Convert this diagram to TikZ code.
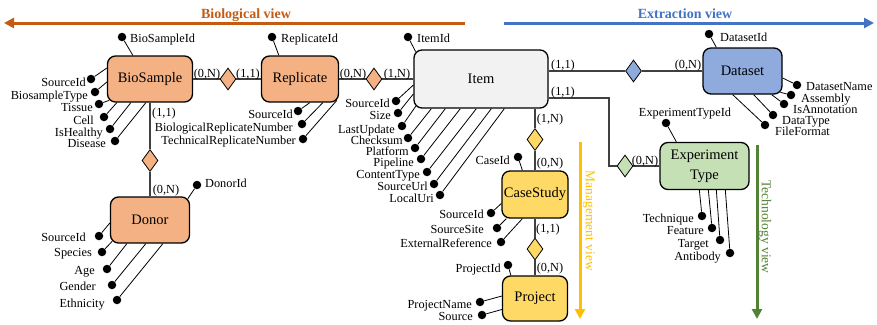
\documentclass[tikz,border=0pt]{standalone}
\usepackage{fontspec}
\setmainfont{Liberation Serif}
\usetikzlibrary{shapes.geometric,arrows.meta}
\definecolor{bioC}{HTML}{F4B183}
\definecolor{itemC}{HTML}{F2F2F2}
\definecolor{dataC}{HTML}{8FAADC}
\definecolor{expC}{HTML}{C5E0B4}
\definecolor{caseC}{HTML}{FFD966}
\definecolor{bioV}{HTML}{C55A11}
\definecolor{extV}{HTML}{4472C4}
\definecolor{manV}{HTML}{FFC000}
\definecolor{tecV}{HTML}{548235}
\definecolor{conC}{HTML}{404040}
\begin{document}
\begin{tikzpicture}[x=1pt,y=-1pt,
  ent/.style={draw=black, line width=1.3pt, rounded corners=8pt, inner sep=0pt,
    font=\fontsize{14.5}{20}\selectfont, align=center},
  rel/.style={diamond, draw=black, line width=0.8pt, inner sep=0pt,
    minimum width=16pt, minimum height=22pt},
  conn/.style={draw=conC, line width=1.1pt},
  attr/.style={draw=black, line width=0.8pt},
  dot/.style={circle, fill=black, inner sep=0pt, minimum size=8.5pt},
  lab/.style={inner sep=0pt, font=\fontsize{12.3}{14}\selectfont, text height=8.5pt, text depth=0pt},
  card/.style={inner sep=0pt, font=\fontsize{12.3}{14}\selectfont, text height=8.5pt, text depth=0pt},
  view/.style={line width=3pt, -{Triangle[length=10pt,width=10pt]}},
  vlab/.style={inner sep=0pt, font=\fontsize{14}{16}\selectfont}
]
\useasboundingbox (0,0) rectangle (877,324);

% view arrows
\coordinate (bvA) at (465,23); \coordinate (bvB) at (4,23);
\coordinate (evA) at (504,23); \coordinate (evB) at (874,23);
\coordinate (mvA) at (580,142); \coordinate (mvB) at (580,319);
\coordinate (tvA) at (757,145); \coordinate (tvB) at (757,319);
\draw[view, draw=bioV, fill=bioV] (bvA) -- (bvB);
\draw[view, draw=extV, fill=extV] (evA) -- (evB);
\draw[view, draw=manV, fill=manV] (mvA) -- (mvB);
\draw[view, draw=tecV, fill=tecV] (tvA) -- (tvB);
\node[vlab, text=bioV, font=\fontsize{14}{16}\selectfont\bfseries] (bvl) at (246,15) {Biological view};
\node[vlab, text=extV, font=\fontsize{14}{16}\selectfont\bfseries] (evl) at (685,14) {Extraction view};
\node[vlab, text=manV, rotate=-90, font=\fontsize{13.5}{16}\selectfont] (mvl) at (589,221) {Management view};
\node[vlab, text=tecV, rotate=-90, font=\fontsize{13.5}{16}\selectfont] (tvl) at (765,227) {Technology view};

% entities
\node[ent, fill=bioC, minimum width=85pt, minimum height=46pt] (bio) at (150,79) {BioSample};
\node[ent, fill=bioC, minimum width=77pt, minimum height=46pt] (rep) at (300,79) {Replicate};
\node[ent, fill=itemC, minimum width=134pt, minimum height=58pt] (item) at (481,79) {Item};
\node[ent, fill=dataC, minimum width=79pt, minimum height=46pt] (data) at (742.5,71) {Dataset};
\node[ent, fill=expC, minimum width=89pt, minimum height=47pt] (exp) at (704.5,166) {Experiment\\Type};
\node[ent, fill=caseC, minimum width=66pt, minimum height=47pt] (case) at (535,194.5) {CaseStudy};
\node[ent, fill=caseC, minimum width=65pt, minimum height=45pt] (proj) at (535,298.5) {Project};
\node[ent, fill=bioC, minimum width=79pt, minimum height=46pt] (donor) at (150,220) {Donor};

% relationships
\node[rel, fill=bioC] (d1) at (228,79) {};
\node[rel, fill=bioC] (d2) at (374,79) {};
\node[rel, fill=dataC] (d3) at (633.5,71) {};
\node[rel, fill=expC] (d4) at (625,166) {};
\node[rel, fill=caseC] (d5) at (535,139.5) {};
\node[rel, fill=caseC] (d6) at (535,249) {};
\node[rel, fill=bioC] (d7) at (150,160.5) {};
\coordinate (c1) at (609,98);

\draw[conn] (bio.east) -- (d1.west);
\draw[conn] (d1.east) -- (rep.west);
\draw[conn] (rep.east) -- (d2.west);
\draw[conn] (d2.east) -- (item.west);
\draw[conn] (item.east |- d3.west) -- (d3.west);
\draw[conn] (d3.east) -- (d3.east -| data.west);
\draw[conn] (item.east |- c1) -- (c1) |- (d4.west);
\draw[conn] (d4.east) -- (d4.east -| exp.west);
\draw[conn] (d5.north |- item.south) -- (d5.north);
\draw[conn] (d5.south) -- (d5.south |- case.north);
\draw[conn] (case.south) -- (d6.north);
\draw[conn] (d6.south) -- (d6.south |- proj.north);
\draw[conn] (bio.south) -- (d7.north);
\draw[conn] (d7.south) -- (donor.north);

% cardinalities
\node[card] (k1) at (207,73) {(0,N)};
\node[card] (k2) at (248,73) {(1,1)};
\node[card] (k3) at (353,73) {(0,N)};
\node[card] (k4) at (397,73) {(1,N)};
\node[card] (k5) at (563,64) {(1,1)};
\node[card] (k6) at (688,64) {(0,N)};
\node[card] (k7) at (563,91) {(1,1)};
\node[card] (k8) at (645,160) {(0,N)};
\node[card] (k9) at (550,118) {(1,N)};
\node[card] (k10) at (550,162) {(0,N)};
\node[card] (k11) at (548,228) {(1,1)};
\node[card] (k12) at (550,267) {(0,N)};
\node[card] (k13) at (164,112) {(1,1)};
\node[card] (k14) at (166,189) {(0,N)};

% BioSample attributes
\node[dot] (b1) at (122,37) {}; \draw[attr] (b1) -- ([xshift=26pt]bio.north west);
\node[lab, anchor=west] at (130,38) {BioSampleId};
\node[dot] (b2) at (91,79) {}; \draw[attr] (b2) -- ([yshift=11pt]bio.west);
\node[lab, anchor=east] at (86,82) {SourceId};
\node[dot] (b3) at (95,92) {}; \draw[attr] (b3) -- ([yshift=-3pt]bio.west);
\node[lab, anchor=east] at (88,95) {BiosampleType};
\node[dot] (b4) at (99,104) {}; \draw[attr] (b4) -- ([xshift=2.3pt,yshift=2.3pt]bio.south west);
\node[lab, anchor=east] at (93,107) {Tissue};
\node[dot] (b5) at (104,117) {}; \draw[attr] (b5) -- ([xshift=10pt]bio.south west);
\node[lab, anchor=east] at (94,120) {Cell};
\node[dot] (b6) at (110,129) {}; \draw[attr] (b6) -- ([xshift=24pt]bio.south west);
\node[lab, anchor=east] at (103,132) {IsHealthy};
\node[dot] (b7) at (115,141) {}; \draw[attr] (b7) -- ([xshift=39pt]bio.south west);
\node[lab, anchor=east] at (106,143) {Disease};

% Replicate attributes
\node[dot] (r1) at (272,37) {}; \draw[attr] (r1) -- ([xshift=18pt]rep.north west);
\node[lab, anchor=west] at (281,38) {ReplicateId};
\node[dot] (r2) at (298,111) {}; \draw[attr] (r2) -- ([xshift=49pt]rep.south west);
\node[lab, anchor=east] at (293,114) {SourceId};
\node[dot] (r3) at (302,124) {}; \draw[attr] (r3) -- ([xshift=62pt]rep.south west);
\node[lab, anchor=east] at (293,127) {BiologicalReplicateNumber};
\node[dot] (r4) at (303,139) {}; \draw[attr] (r4) -- ([xshift=-2.3pt,yshift=2.3pt]rep.south east);
\node[lab, anchor=east] at (296,140) {TechnicalReplicateNumber};

% Item attributes
\node[dot] (i1) at (408,37) {}; \draw[attr] (i1) -- ([xshift=2.3pt,yshift=-2.3pt]item.north west);
\node[lab, anchor=west] at (417,38) {ItemId};
\node[dot] (i2) at (396,101) {}; \draw[attr] (i2) -- ([yshift=-6pt]item.west);
\node[lab, anchor=east] at (390,103) {SourceId};
\node[dot] (i3) at (398,113) {}; \draw[attr] (i3) -- ([yshift=-15pt]item.west);
\node[lab, anchor=east] at (391,115) {Size};
\node[dot] (i4) at (402,126) {}; \draw[attr] (i4) -- ([xshift=2.3pt,yshift=2.3pt]item.south west);
\node[lab, anchor=east] at (395,129) {LastUpdate};
\node[dot] (i5) at (408,138) {}; \draw[attr] (i5) -- ([xshift=18pt]item.south west);
\node[lab, anchor=east] at (403,140) {Checksum};
\node[dot] (i6) at (415,148) {}; \draw[attr] (i6) -- ([xshift=32pt]item.south west);
\node[lab, anchor=east] at (409,151) {Platform};
\node[dot] (i7) at (421,159) {}; \draw[attr] (i7) -- ([xshift=47pt]item.south west);
\node[lab, anchor=east] at (414,162) {Pipeline};
\node[dot] (i8) at (427,172) {}; \draw[attr] (i8) -- ([xshift=63pt]item.south west);
\node[lab, anchor=east] at (420,174) {ContentType};
\node[dot] (i9) at (434,184) {}; \draw[attr] (i9) -- ([xshift=78pt]item.south west);
\node[lab, anchor=east] at (428,186) {SourceUrl};
\node[dot] (i10) at (440,195) {}; \draw[attr] (i10) -- ([xshift=91pt]item.south west);
\node[lab, anchor=east] at (434,198) {LocalUri};

% CaseStudy attributes
\node[dot] (s1) at (518,157) {}; \draw[attr] (s1) -- ([xshift=21pt]case.north west);
\node[lab, anchor=east] at (510,160) {CaseId};
\node[dot] (s2) at (491,213) {}; \draw[attr] (s2) -- ([yshift=-9pt]case.west);
\node[lab, anchor=east] at (484,214) {SourceId};
\node[dot] (s3) at (497,228) {}; \draw[attr] (s3) -- ([xshift=5pt]case.south west);
\node[lab, anchor=east] at (484,229) {SourceSite};
\node[dot] (s4) at (501,242) {}; \draw[attr] (s4) -- ([xshift=21pt]case.south west);
\node[lab, anchor=east] at (492,243) {ExternalReference};

% Project attributes
\node[dot] (p1) at (508,265) {}; \draw[attr] (p1) -- ([xshift=9pt]proj.north west);
\node[lab, anchor=east] at (501,268) {ProjectId};
\node[dot] (p2) at (480,302) {}; \draw[attr] (p2) -- ([yshift=2.5pt]proj.west);
\node[lab, anchor=east] at (472,304) {ProjectName};
\node[dot] (p3) at (482,315) {}; \draw[attr] (p3) -- ([yshift=-11pt]proj.west);
\node[lab, anchor=east] at (473,316) {Source};

% Donor attributes
\node[dot] (o1) at (197,185) {}; \draw[attr] (o1) -- ([xshift=-2.3pt,yshift=-2.3pt]donor.north east);
\node[lab, anchor=west] at (205,183) {DonorId};
\node[dot] (o2) at (99,236) {}; \draw[attr] (o2) -- ([yshift=-3pt]donor.west);
\node[lab, anchor=east] at (86,237) {SourceId};
\node[dot] (o3) at (102,252) {}; \draw[attr] (o3) -- ([xshift=2.3pt,yshift=2.3pt]donor.south west);
\node[lab, anchor=east] at (92,252) {Species};
\node[dot] (o4) at (107,269) {}; \draw[attr] (o4) -- ([xshift=17pt]donor.south west);
\node[lab, anchor=east] at (95,270) {Age};
\node[dot] (o5) at (112,285) {}; \draw[attr] (o5) -- ([xshift=36pt]donor.south west);
\node[lab, anchor=east] at (96,286) {Gender};
\node[dot] (o6) at (117,300) {}; \draw[attr] (o6) -- ([xshift=53pt]donor.south west);
\node[lab, anchor=east] at (105,303) {Ethnicity};

% Dataset attributes
\node[dot] (a1) at (709,34) {}; \draw[attr] (a1) -- ([xshift=14pt]data.north west);
\node[lab, anchor=west] at (720,37) {DatasetId};
\node[dot] (a2) at (797,85) {}; \draw[attr] (a2) -- ([yshift=-7pt]data.east);
\node[lab, anchor=west] at (806,86) {DatasetName};
\node[dot] (a3) at (791,95) {}; \draw[attr] (a3) -- ([xshift=-2.3pt,yshift=2.3pt]data.south east);
\node[lab, anchor=west] at (801,98) {Assembly};
\node[dot] (a4) at (784,104) {}; \draw[attr] (a4) -- ([xshift=-11pt]data.south east);
\node[lab, anchor=west] at (793,109) {IsAnnotation};
\node[dot] (a5) at (773,115) {}; \draw[attr] (a5) -- ([xshift=-29pt]data.south east);
\node[lab, anchor=west] at (782,120) {DataType};
\node[dot] (a6) at (765,125) {}; \draw[attr] (a6) -- ([xshift=-50pt]data.south east);
\node[lab, anchor=west] at (775,131) {FileFormat};

% Experiment Type attributes
\node[dot] (e1) at (666,123) {}; \draw[attr] (e1) -- ([xshift=17pt]exp.north west);
\node[lab] at (685,112) {ExperimentTypeId};
\node[dot] (e2) at (702,216) {}; \draw[attr] (e2) -- ([xshift=40pt]exp.south west);
\node[lab, anchor=east] at (694,218) {Technique};
\node[dot] (e3) at (712,228) {}; \draw[attr] (e3) -- ([xshift=49pt]exp.south west);
\node[lab, anchor=east] at (704,230) {Feature};
\node[dot] (e4) at (720,240) {}; \draw[attr] (e4) -- ([xshift=57pt]exp.south west);
\node[lab, anchor=east] at (709,243) {Target};
\node[dot] (e5) at (730,253) {}; \draw[attr] (e5) -- ([xshift=66pt]exp.south west);
\node[lab, anchor=east] at (721,256) {Antibody};
\end{tikzpicture}
\end{document}
